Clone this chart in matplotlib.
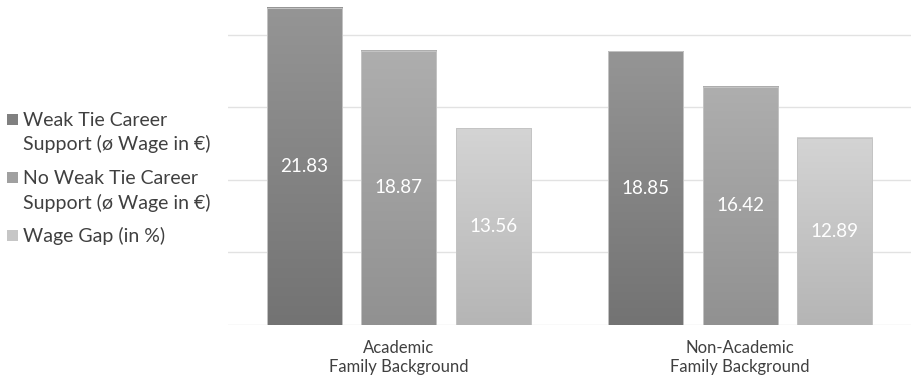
import numpy as np
import matplotlib
matplotlib.use("Agg")
import matplotlib.pyplot as plt
from matplotlib.patches import Rectangle

plt.rcParams['font.family'] = ['Lato', 'DejaVu Sans']

# data
categories = ["Academic\nFamily Background", "Non-Academic\nFamily Background"]
series_names = ["Weak Tie Career\nSupport (ø Wage in €)",
                "No Weak Tie Career\nSupport (ø Wage in €)",
                "Wage Gap (in %)"]
weak_tie = [21.83, 18.85]
no_weak_tie = [18.87, 16.42]
wage_gap = [13.56, 12.89]

# gradient colours (top, bottom) per series
grad_colors = [("#959595", "#737373"),
               ("#aeaeae", "#919191"),
               ("#d4d4d4", "#b5b5b5")]
legend_colors = ["#808080", "#a0a0a0", "#c6c6c6"]
text_color = "#404040"

W, H = 911, 384
fig = plt.figure(figsize=(W / 100, H / 100), dpi=100)
ax = fig.add_axes([228 / W, 59 / H, 683 / W, 325 / H])

x = np.arange(len(categories))
width = 0.22
step = 0.277
all_series = [weak_tie, no_weak_tie, wage_gap]

for i, vals in enumerate(all_series):
    offset = (i - 1) * step
    top_c = np.array(matplotlib.colors.to_rgb(grad_colors[i][0]))
    bot_c = np.array(matplotlib.colors.to_rgb(grad_colors[i][1]))
    grad = np.linspace(0, 1, 256)[:, None, None]
    img = top_c * (1 - grad) + bot_c * grad
    bars = ax.bar(x + offset, vals, width, facecolor="none",
                  edgecolor="#c4c4c4", linewidth=0.7, zorder=2.5)
    for b, v in zip(bars, vals):
        x0 = b.get_x()
        ax.imshow(img, extent=(x0, x0 + width, 0, v), aspect="auto",
                  origin="upper", zorder=2, interpolation="bilinear")
        ax.text(x0 + width / 2, v / 2, f"{v:.2f}", ha="center",
                va="center", color="white", fontsize=13.5, zorder=3)

ax.set_xlim(-0.5, 1.5)
ax.set_ylim(0, 22.38)
ax.set_yticks([0, 5, 10, 15, 20])
ax.yaxis.grid(True, color="#e2e2e2", linewidth=1)
ax.set_axisbelow(True)
ax.tick_params(axis="y", left=False, labelleft=False)
ax.set_xticks(x)
ax.set_xticklabels(categories, fontsize=12, color=text_color, linespacing=1.25)
ax.tick_params(axis="x", bottom=False, pad=7)
for s in ax.spines.values():
    s.set_visible(False)

# legend on the left, drawn by hand (pixel positions from top)
first_baselines = [126, 184.5, 242]
line_gap = 24.5
for name, col, yb in zip(series_names, legend_colors, first_baselines):
    fig.patches.append(Rectangle((7 / W, 1 - (yb - 1) / H), 11 / W, 11 / H,
                                 transform=fig.transFigure, facecolor=col,
                                 edgecolor="none"))
    for k, line in enumerate(name.split("\n")):
        fig.text(23 / W, 1 - (yb + k * line_gap) / H, line, fontsize=14,
                 color=text_color, va="baseline", ha="left")

fig.savefig("out.png", dpi=100)
